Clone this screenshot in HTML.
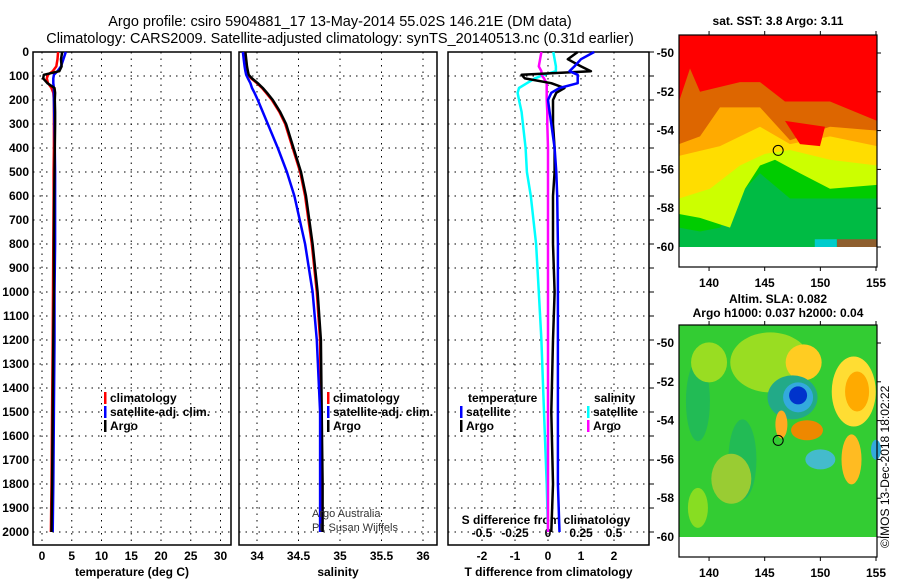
<!DOCTYPE html>
<html><head><meta charset="utf-8"><style>
body{margin:0;background:#fff}
svg{display:block;font-family:"Liberation Sans",sans-serif}
.t{font-size:12px;font-weight:bold}
</style></head><body>
<svg id="s" width="900" height="580" viewBox="0 0 900 580">
<text x="340" y="26" text-anchor="middle" font-size="14.5">Argo profile: csiro 5904881_17 13-May-2014 55.02S 146.21E (DM data)</text>
<text x="340" y="43" text-anchor="middle" font-size="14.5">Climatology: CARS2009. Satellite-adjusted climatology: synTS_20140513.nc (0.31d earlier)</text>
<g id="g"></g>
</svg>
<script>
const depths=[0,30,60,80,95,110,130,150,170,200,250,300,400,500,600,800,1000,1200,1500,1800,2000];
const tClim=[2.7,2.6,2.4,1.8,1.0,0.8,1.0,1.6,1.9,2.0,2.0,2.0,2.0,1.95,1.95,1.9,1.85,1.8,1.7,1.6,1.5];
const tSat=[4.0,3.6,3.2,2.6,2.0,1.9,1.9,2.0,2.0,2.0,2.05,2.1,2.15,2.2,2.2,2.2,2.1,2.1,2.0,1.9,1.8];
const tArgo=[3.4,3.2,3.3,2.9,0.3,0.2,0.9,2.1,2.2,2.15,2.2,2.2,2.15,2.1,2.05,2.0,2.0,1.9,1.8,1.7,1.6];
const sClim=[33.85,33.86,33.87,33.88,33.89,33.93,34.0,34.06,34.11,34.18,34.27,34.34,34.43,34.52,34.58,34.66,34.72,34.76,34.77,34.78,34.78];
const sSat=[33.83,33.84,33.85,33.86,33.87,33.89,33.92,33.94,33.97,34.01,34.07,34.13,34.25,34.36,34.45,34.58,34.67,34.72,34.76,34.76,34.76];
const sArgo=[33.86,33.87,33.88,33.89,33.9,33.94,34.01,34.07,34.12,34.19,34.28,34.35,34.44,34.53,34.59,34.67,34.73,34.77,34.78,34.79,34.79];
const dTArgo=[0.9,0.6,1.0,1.3,-0.8,-0.7,0.1,0.5,0.25,0.15,0.15,0.15,0.2,0.2,0.15,0.15,0.2,0.15,0.1,0.15,0.1];
const dTSat=[1.4,1.0,0.8,0.65,0.9,0.9,0.9,0.35,0.1,0.0,0.05,0.1,0.2,0.25,0.28,0.3,0.3,0.3,0.3,0.3,0.35];
const dSSat=[0.04,0.05,0.06,0.06,-0.03,-0.1,-0.16,-0.22,-0.23,-0.22,-0.2,-0.19,-0.17,-0.16,-0.13,-0.09,-0.07,-0.05,-0.03,-0.01,0.0];
const dSArgo=[-0.05,-0.06,-0.07,-0.05,-0.05,-0.03,-0.01,-0.01,-0.01,-0.01,-0.005,-0.005,0,0,0,0,0,0,0,0,0];
const depthTicks=[0,100,200,300,400,500,600,700,800,900,1000,1100,1200,1300,1400,1500,1600,1700,1800,1900,2000];
const tTicks=[0,5,10,15,20,25,30];
const sTicks=[34,34.5,35,35.5,36];
const dtTicks=[-2,-1,0,1,2];
const dsTicks=[-0.5,-0.25,0,0.25,0.5];
const lonTicks=[140,145,150,155];
const latTicks=[-50,-52,-54,-56,-58,-60];

const NS='http://www.w3.org/2000/svg',G=document.getElementById('g');
function mk(t,a,p){const e=document.createElementNS(NS,t);for(const k in a)e.setAttribute(k,a[k]);(p||G).appendChild(e);return e;}
function txt(x,y,s,o){const e=mk('text',Object.assign({x:x,y:y},o||{}));e.textContent=s;return e;}
const yD=d=>52+d*0.24, Y0=52, Y1=545;
const xT=v=>42+v*5.95, xS=v=>257+(v-34)*83, xDT=v=>548+v*33, xDS=v=>548+v*132;
function panel(x0,x1,name,xs,ticks,lab){
  const p=mk('g',{});
  
  
  ticks.forEach(v=>{const l=mk('line',{x1:xs(v),x2:xs(v),y1:Y0,y2:Y1,stroke:'#000','stroke-dasharray':'1.5 5'},p);
    });
  depthTicks.forEach(d=>{const l=mk('line',{x1:x0,x2:x1,y1:yD(d),y2:yD(d),stroke:'#000','stroke-dasharray':'1.5 5'},p);
    });
  const r=mk('rect',{x:x0,y:Y0,width:x1-x0,height:Y1-Y0,fill:'none',stroke:'#000','stroke-width':1.5},p);
  
  ticks.forEach(v=>{const t=txt(xs(v),560,String(v),{'text-anchor':'middle',class:'t'});
    });
  const t=txt((x0+x1)/2,576,lab,{'text-anchor':'middle',class:'t'});
  
  return p;
}
function line(vals,xs,col,name){
  const pts=vals.map((v,i)=>xs(v).toFixed(1)+','+yD(depths[i]).toFixed(1)).join(' ');
  const l=mk('polyline',{points:pts,fill:'none',stroke:col,'stroke-width':2.5,'stroke-linejoin':'round'});
  
}
panel(33,231,'temperature-panel',xT,tTicks,'temperature (deg C)');
panel(239,437,'salinity-panel',xS,sTicks,'salinity');
panel(448,649,'difference-panel',xDT,dtTicks,'T difference from climatology');
depthTicks.forEach(d=>{const t=txt(29,yD(d)+4,String(d),{'text-anchor':'end',class:'t'});
  
  const k=mk('line',{x1:649,x2:654,y1:yD(d),y2:yD(d),stroke:'#000'});
  });
dsTicks.forEach(v=>{const t=txt(xDS(v),537,String(v),{'text-anchor':'middle',class:'t'});
  });
{const t=txt(546,524,'S difference from climatology',{'text-anchor':'middle',class:'t'});
 }
line(tClim,xT,'#f00','temp-climatology-line');
line(tSat,xT,'#00f','temp-satellite-line');
line(tArgo,xT,'#000','temp-argo-line');
line(sClim,xS,'#f00','sal-climatology-line');
line(sArgo,xS,'#000','sal-argo-line');
line(sSat,xS,'#00f','sal-satellite-line');
line(dSSat,xDS,'#0ff','sdiff-satellite-line');
line(dSArgo,xDS,'#f0f','sdiff-argo-line');
line(dTArgo,xDT,'#000','tdiff-argo-line');
line(dTSat,xDT,'#00f','tdiff-satellite-line');
function leg(x,y,col,s,name){
  const g=mk('g',{});
  mk('rect',{x:x,y:y-10,width:2.5,height:12,fill:col},g);
  const t=txt(x+6,y,s,{class:'t'});g.appendChild(t);
}
leg(104,402,'#f00','climatology','legend-climatology');
leg(104,416,'#00f','satellite-adj. clim.','legend-satellite');
leg(104,430,'#000','Argo','legend-argo');
leg(327,402,'#f00','climatology','legend-climatology-2');
leg(327,416,'#00f','satellite-adj. clim.','legend-satellite-2');
leg(327,430,'#000','Argo','legend-argo-2');
{const t=txt(468,402,'temperature',{class:'t'});
 const u=txt(594,402,'salinity',{class:'t'});}
leg(460,416,'#00f','satellite','legend-t-satellite');
leg(460,430,'#000','Argo','legend-t-argo');
leg(587,416,'#0ff','satellite','legend-s-satellite');
leg(587,430,'#f0f','Argo','legend-s-argo');
{const a=txt(312,517,'Argo Australia',{'font-size':11,fill:'#333'});
 const b=txt(312,531,'PI: Susan Wijffels',{'font-size':11,fill:'#333'});}

const xL=v=>679+(v-137.3)*11.13;
function map(top,name,title1,title2,fillFn){
  const yl=v=>top+18+(-50-v)*19.4;
  const g=mk('g',{});
  fillFn(g,yl);
  const r=mk('rect',{x:679,y:top,width:198,height:232,fill:'none',stroke:'#000','stroke-width':1.2},g);
  
  lonTicks.forEach(v=>{mk('line',{x1:xL(v),x2:xL(v),y1:top-4,y2:top,stroke:'#000'},g);mk('line',{x1:xL(v),x2:xL(v),y1:top+232,y2:top+236,stroke:'#000'},g);
    const t=txt(xL(v),top+252,String(v),{'text-anchor':'middle',class:'t'});});
  latTicks.forEach(v=>{mk('line',{x1:877,x2:881,y1:yl(v),y2:yl(v),stroke:'#000'},g);
    const t=txt(674,yl(v)+4,String(v),{'text-anchor':'end',class:'t'});});
  const c=mk('circle',{cx:xL(146.21),cy:yl(-55.02),r:5,fill:'none',stroke:'#000'},g);
  const t1=txt(778,top-(title2?22:10),title1,{'text-anchor':'middle',class:'t'});
  if(title2){const t2=txt(778,top-8,title2,{'text-anchor':'middle',class:'t'});}
}
map(35,'sst-map','sat. SST: 3.8 Argo: 3.11',null,(g,yl)=>{
  mk('rect',{x:679,y:35,width:198,height:232,fill:'#fff'},g);
  mk('rect',{x:679,y:35,width:198,height:yl(-60)-35,fill:'#0b4'},g);
  mk('path',{d:`M679 ${yl(-59)} L700 ${yl(-59.2)} L720 ${yl(-59)} L745 ${yl(-57)} L760 ${yl(-56.2)} L790 ${yl(-57.5)} L820 ${yl(-57.5)} L877 ${yl(-57.5)} L877 ${yl(-58.8)} L877 35 L679 35Z`,fill:'#0c0'},g);
  mk('path',{d:`M679 ${yl(-58.3)} L700 ${yl(-58.5)} L730 ${yl(-59)} L745 ${yl(-57)} L760 ${yl(-55.8)} L775 ${yl(-55.5)} L800 ${yl(-56.2)} L830 ${yl(-57)} L877 ${yl(-56.8)} L877 35 L679 35Z`,fill:'#cf0'},g);
  mk('path',{d:`M679 ${yl(-57.5)} L710 ${yl(-57)} L740 ${yl(-55.8)} L765 ${yl(-55.2)} L790 ${yl(-55)} L830 ${yl(-55.5)} L877 ${yl(-55.8)} L877 35 L679 35Z`,fill:'#fd0'},g);
  mk('path',{d:`M679 ${yl(-55.3)} L720 ${yl(-54.8)} L760 ${yl(-53.8)} L790 ${yl(-54.7)} L830 ${yl(-54.3)} L877 ${yl(-54.8)} L877 35 L679 35Z`,fill:'#fa0'},g);
  mk('path',{d:`M679 ${yl(-54.7)} L700 ${yl(-54.3)} L720 ${yl(-52.8)} L760 ${yl(-52.8)} L790 ${yl(-54.5)} L830 ${yl(-53.8)} L877 ${yl(-54)} L877 35 L679 35Z`,fill:'#d60'},g);
  mk('path',{d:`M679 ${yl(-52.5)} L690 ${yl(-50.8)} L700 ${yl(-52)} L740 ${yl(-51.5)} L760 ${yl(-51.5)} L785 ${yl(-52.5)} L830 ${yl(-52.5)} L877 ${yl(-53.5)} L877 35 L679 35Z`,fill:'#f00'},g);
  mk('path',{d:`M785 ${yl(-53.5)} L800 ${yl(-54.7)} L820 ${yl(-54.8)} L825 ${yl(-53.8)} Z`,fill:'#f00'},g);
  mk('rect',{x:xL(149.5),y:yl(-59.6),width:22,height:yl(-60)-yl(-59.6),fill:'#0cc'},g);
  mk('rect',{x:xL(151.5),y:yl(-59.6),width:877-xL(151.5),height:yl(-60)-yl(-59.6),fill:'#e22',opacity:0.6},g);
});
map(325,'sla-map','Altim. SLA: 0.082','Argo h1000: 0.037 h2000: 0.04',(g,yl)=>{
  mk('rect',{x:679,y:325,width:198,height:232,fill:'#fff'},g);
  mk('rect',{x:679,y:325,width:198,height:yl(-60)-325,fill:'#3c3'},g);
  const b=(cx,cy,rx,ry,f)=>mk('ellipse',{cx:xL(cx),cy:yl(cy),rx:rx,ry:ry,fill:f},g);
  b(139,-53,12,40,'#2b5');b(143,-56,14,40,'#2b5');b(139,-58.5,10,20,'#8d2');
  b(145.5,-51,40,30,'#9d2');b(148.5,-51,18,18,'#fc2');b(153,-52.5,22,35,'#fd3');b(153.3,-52.5,12,20,'#fa0');
  b(140,-51,18,20,'#9d2');b(147.5,-52.8,25,22,'#2a8');b(148,-52.8,15,15,'#3ad');b(148,-52.7,9,9,'#03c');
  b(146.5,-54.2,6,14,'#fa2');b(148.8,-54.5,16,10,'#e80');b(150,-56,15,10,'#4bc');b(152.8,-56,10,25,'#fb2');b(155,-55.5,5,10,'#3ad');
  b(142,-57,20,25,'#9c3');
});
{const t=txt(0,0,'©IMOS 13-Dec-2018 18:02:22',{transform:'translate(889,548) rotate(-90)','font-size':'12'});
 }
</script>
</body></html>
